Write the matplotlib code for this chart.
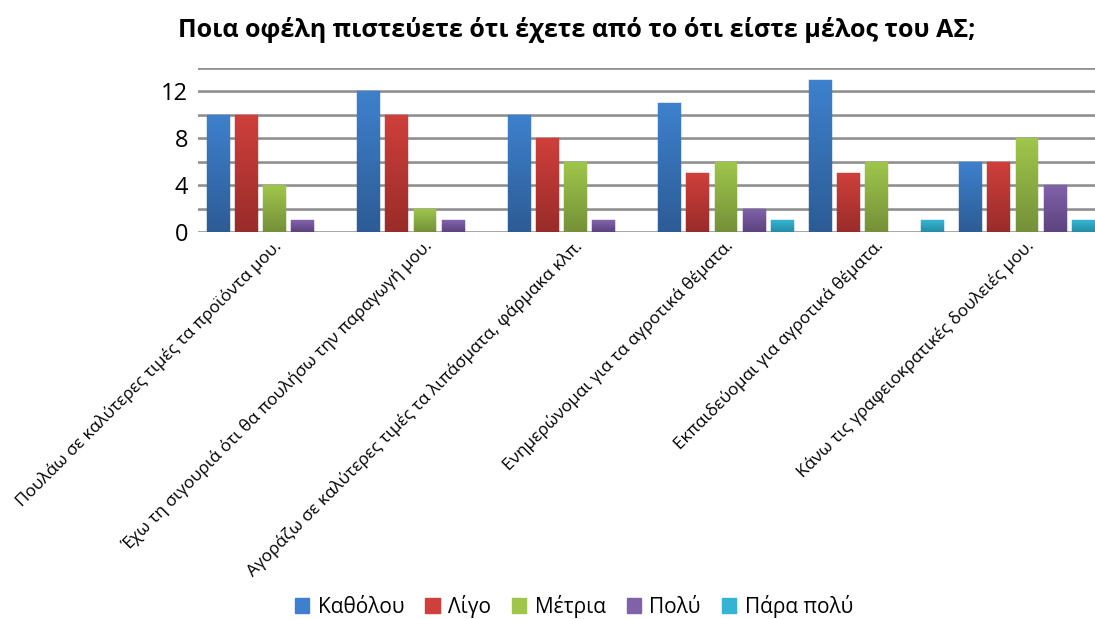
import numpy as np
import matplotlib
matplotlib.use("Agg")
import matplotlib.pyplot as plt
from matplotlib.colors import to_rgb

plt.rcParams['font.family'] = ['Open Sans', 'DejaVu Sans']

title = "Ποια οφέλη πιστεύετε ότι έχετε από το ότι είστε μέλος του ΑΣ;"
categories = [
    "Πουλάω σε καλύτερες τιμές τα προϊόντα μου.",
    "Έχω τη σιγουριά ότι θα πουλήσω την παραγωγή μου.",
    "Αγοράζω σε καλύτερες τιμές τα λιπάσματα, φάρμακα κλπ.",
    "Ενημερώνομαι για τα αγροτικά θέματα.",
    "Εκπαιδεύομαι για αγροτικά θέματα.",
    "Κάνω τις γραφειοκρατικές δουλειές μου.",
]
series_names = ["Καθόλου", "Λίγο", "Μέτρια", "Πολύ", "Πάρα πολύ"]
katholou = [10, 12, 10, 11, 13, 6]
ligo = [10, 10, 8, 5, 5, 6]
metria = [4, 2, 6, 6, 6, 8]
poly = [1, 1, 1, 2, 0, 4]
para_poly = [0, 0, 0, 1, 1, 1]
series = [katholou, ligo, metria, poly, para_poly]

# (top colour, bottom colour) for the Excel-like gradients
colours = [
    ("#3e80cd", "#2c5b94"),
    ("#cf3f3b", "#982b29"),
    ("#9fc64b", "#748f38"),
    ("#8062aa", "#5c427e"),
    ("#34b3d2", "#258ca5"),
]

fig = plt.figure(figsize=(10.95, 6.19), dpi=100)
W, H = 1095, 619
left_px, right_px, top_px, bot_px = 198, 1101, 68, 232
ax = fig.add_axes([left_px / W, 1 - bot_px / H, (right_px - left_px) / W, (bot_px - top_px) / H])

x = np.arange(len(categories))
slot = 0.187
bw = 0.152
start = 0.058
ymax = 14
nstep = 40


def gradient_bars(xpos, vals, ctop, cbot):
    # each bar is cut into thin slices, dark at its base and light at its top
    top = np.array(to_rgb(ctop))
    bot = np.array(to_rgb(cbot))
    for xp, v in zip(xpos, vals):
        if v <= 0:
            continue
        edges = np.linspace(0, v, nstep + 1)
        for k in range(nstep):
            c = bot + (top - bot) * (k + 0.5) / nstep
            ax.bar(xp, edges[k + 1] - edges[k], bw, bottom=edges[k], align='edge',
                   color=c, linewidth=0.3, edgecolor=c, zorder=3)


for i, (vals, (ctop, cbot)) in enumerate(zip(series, colours)):
    gradient_bars(x - 0.5 + start + i * slot, vals, ctop, cbot)

handles = [plt.Rectangle((0, 0), 1, 1, color=c[0]) for c in colours]

ax.set_xlim(-0.5, 5.5)
ax.set_ylim(0, ymax)
for yv in np.arange(0, ymax + 1, 2):
    ax.axhline(yv - 0.08, color='#d9d9d9', lw=1.5, zorder=1)
    ax.axhline(yv, color='#8e8e8e', lw=1.8, zorder=2)

ax.set_yticks([0, 4, 8, 12])
ax.set_yticklabels(["0", "4", "8", "12"], fontsize=17)
ax.set_xticks(x)
ax.set_xticklabels(categories, rotation=45, ha='right', va='top',
                   rotation_mode='anchor', fontsize=12.4)
ax.tick_params(axis='y', length=0, pad=7)
ax.tick_params(axis='x', length=0, pad=4)
for s in ax.spines.values():
    s.set_visible(False)

fig.text(0.527, 0.952, title, ha='center', va='center', fontsize=18, fontweight='bold')

fig.legend(handles, series_names, loc='center', bbox_to_anchor=(0.524, 0.021), ncol=5,
           frameon=False, fontsize=15, handlelength=0.7, handleheight=0.7,
           handletextpad=0.4, columnspacing=1.0)

fig.savefig("out.png", dpi=100)
